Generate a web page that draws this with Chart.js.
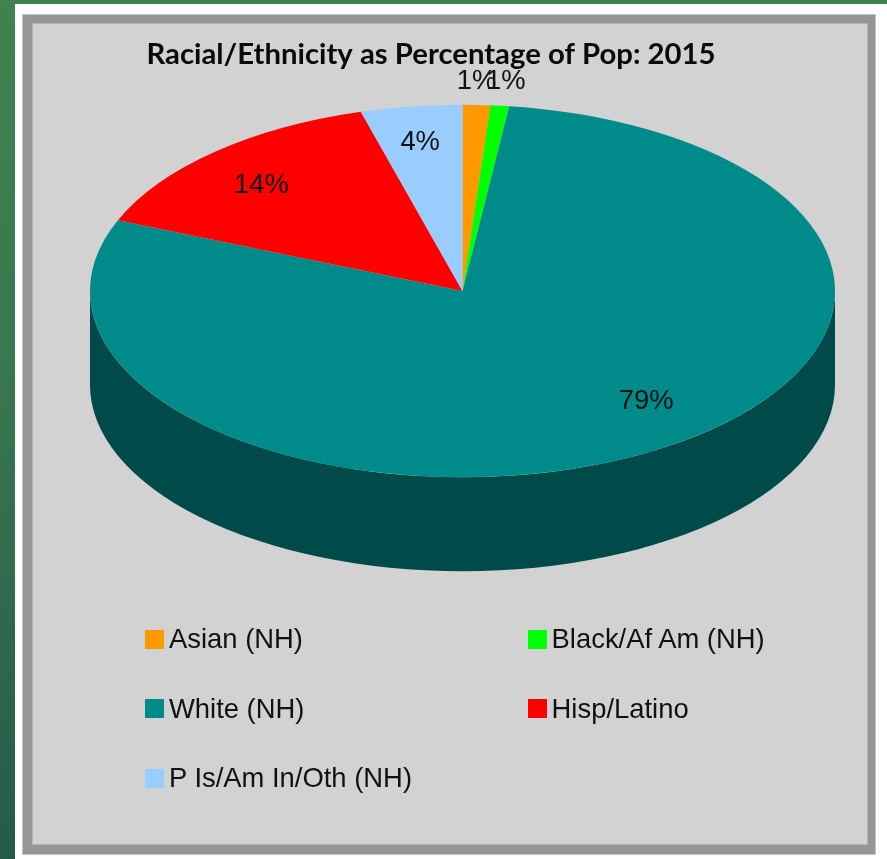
<!DOCTYPE html>
<html>
<head>
<meta charset="utf-8">
<title>Racial/Ethnicity as Percentage of Pop: 2015</title>
<script src="https://cdn.jsdelivr.net/npm/chart.js@4"></script>
<style>
  html, body { margin: 0; padding: 0; width: 887px; height: 859px; overflow: hidden; }
  body { position: relative; background: linear-gradient(180deg, #41824f 0%, #3a7850 40%, #2f6a4e 70%, #255a4a 100%); }
  #paper { position: absolute; left: 15px; top: 4px; width: 872px; height: 855px; background: #fff; }
  #frame { position: absolute; left: 22px; top: 14px; width: 852px; height: 839px; background: #969696; border: 1px solid #c6c6c6; }
  #inner { position: absolute; left: 32px; top: 23px; width: 834px; height: 820px; background: #d2d2d2; border: 1px solid #b4b4b4; }
  #chartWrap { position: absolute; left: 0; top: 0; width: 862px; height: 859px; }
  #legend { position: absolute; left: 145px; top: 604.5px; display: grid; grid-template-columns: 382.6px 300px; grid-auto-rows: 69.5px;
            font: 27.4px "Liberation Sans", Arial, sans-serif; color: #111; }
  #legend div { display: flex; align-items: center; white-space: nowrap; }
  #legend i { display: block; width: 19px; height: 19px; margin-right: 5px; }
</style>
</head>
<body>
<div id="paper"></div>
<div id="frame"></div>
<div id="inner"></div>
<div id="chartWrap"><canvas id="chartPop"></canvas></div>
<div id="legend"></div>
<script>
var titleText = 'Racial/Ethnicity as Percentage of Pop: 2015';
var categories = ['Asian (NH)', 'Black/Af Am (NH)', 'White (NH)', 'Hisp/Latino', 'P Is/Am In/Oth (NH)'];
var popShare = [1.2, 0.8, 79.2, 14.4, 4.4];
var sliceColors = ['#ff9900', '#00ff00', '#008b8b', '#ff0000', '#99ccff'];
var sideColors = ['#7f4c00', '#007f00', '#004a4a', '#7f0000', '#4c667f'];

// tilt of the fake 3d pie
var squash = 0.5;
var pieCenterY = 291;
var pieDepth = 94;
// px shift of each % label from the rim point of its slice
var labelNudge = [[0, -23], [6, -24], [-4, -50], [47, 33], [9, 36]];

function applyTilt(ctx, cy, drop) {
  ctx.translate(0, pieCenterY + drop);
  ctx.scale(1, squash);
  ctx.translate(0, -cy);
}

var tiltPlugin = {
  id: 'tilt',
  afterLayout: function(chart) {
    // title centres on the whole canvas, not on the padded pie area
    chart.titleBlock.left = 0;
    chart.titleBlock.right = chart.width;
  },
  beforeDatasetsDraw: function(chart) {
    var ctx = chart.ctx;
    var arcs = chart.getDatasetMeta(0).data;
    var cy = arcs[0].y;
    // side wall: lower rim and upper rim joined into one band per slice,
    // only the front half of the pie (canvas angles 0..PI) shows it
    arcs.forEach(function(arc, i) {
      var from = Math.max(arc.startAngle, 0);
      var to = Math.min(arc.endAngle, Math.PI);
      if (from >= to) {
        return;
      }
      ctx.fillStyle = sideColors[i];
      ctx.beginPath();
      ctx.save();
      applyTilt(ctx, cy, pieDepth);
      ctx.arc(arc.x, arc.y, arc.outerRadius, from, to);
      ctx.restore();
      ctx.save();
      applyTilt(ctx, cy, 0);
      ctx.arc(arc.x, arc.y, arc.outerRadius, to, from, true);
      ctx.restore();
      ctx.closePath();
      ctx.fill();
    });
    ctx.save();
    applyTilt(ctx, cy, 0);
  },
  afterDatasetsDraw: function(chart) {
    var ctx = chart.ctx;
    ctx.restore();
    var total = popShare.reduce(function(a, b) { return a + b; }, 0);
    ctx.save();
    ctx.font = '27.4px "Liberation Sans", Arial, sans-serif';
    ctx.fillStyle = '#111';
    ctx.textAlign = 'center';
    ctx.textBaseline = 'middle';
    chart.getDatasetMeta(0).data.forEach(function(arc, i) {
      var mid = (arc.startAngle + arc.endAngle) / 2;
      var x = arc.x + Math.cos(mid) * arc.outerRadius + labelNudge[i][0];
      var y = pieCenterY + Math.sin(mid) * arc.outerRadius * squash + labelNudge[i][1];
      ctx.fillText(Math.round(popShare[i] / total * 100) + '%', x, y);
    });
    ctx.restore();
  }
};

var htmlLegend = {
  id: 'htmlLegend',
  afterUpdate: function(chart) {
    var box = document.getElementById('legend');
    box.innerHTML = '';
    chart.options.plugins.legend.labels.generateLabels(chart).forEach(function(item) {
      var row = document.createElement('div');
      var swatch = document.createElement('i');
      swatch.style.background = item.fillStyle;
      row.appendChild(swatch);
      row.appendChild(document.createTextNode(item.text));
      box.appendChild(row);
    });
  }
};

new Chart(document.getElementById('chartPop').getContext('2d'), {
  type: 'pie',
  data: {
    labels: categories,
    datasets: [{
      data: popShare,
      backgroundColor: sliceColors,
      borderWidth: 0
    }]
  },
  options: {
    responsive: true,
    maintainAspectRatio: false,
    animation: false,
    layout: { padding: { left: 90, right: 27, bottom: 10 } },
    plugins: {
      legend: { display: false },
      tooltip: { enabled: false },
      title: {
        display: true,
        text: titleText,
        color: '#0a0a0a',
        font: { family: 'Lato', size: 29.3, weight: 'bold' },
        padding: { top: 37, bottom: 2 }
      }
    }
  },
  plugins: [tiltPlugin, htmlLegend]
});
</script>
</body>
</html>
